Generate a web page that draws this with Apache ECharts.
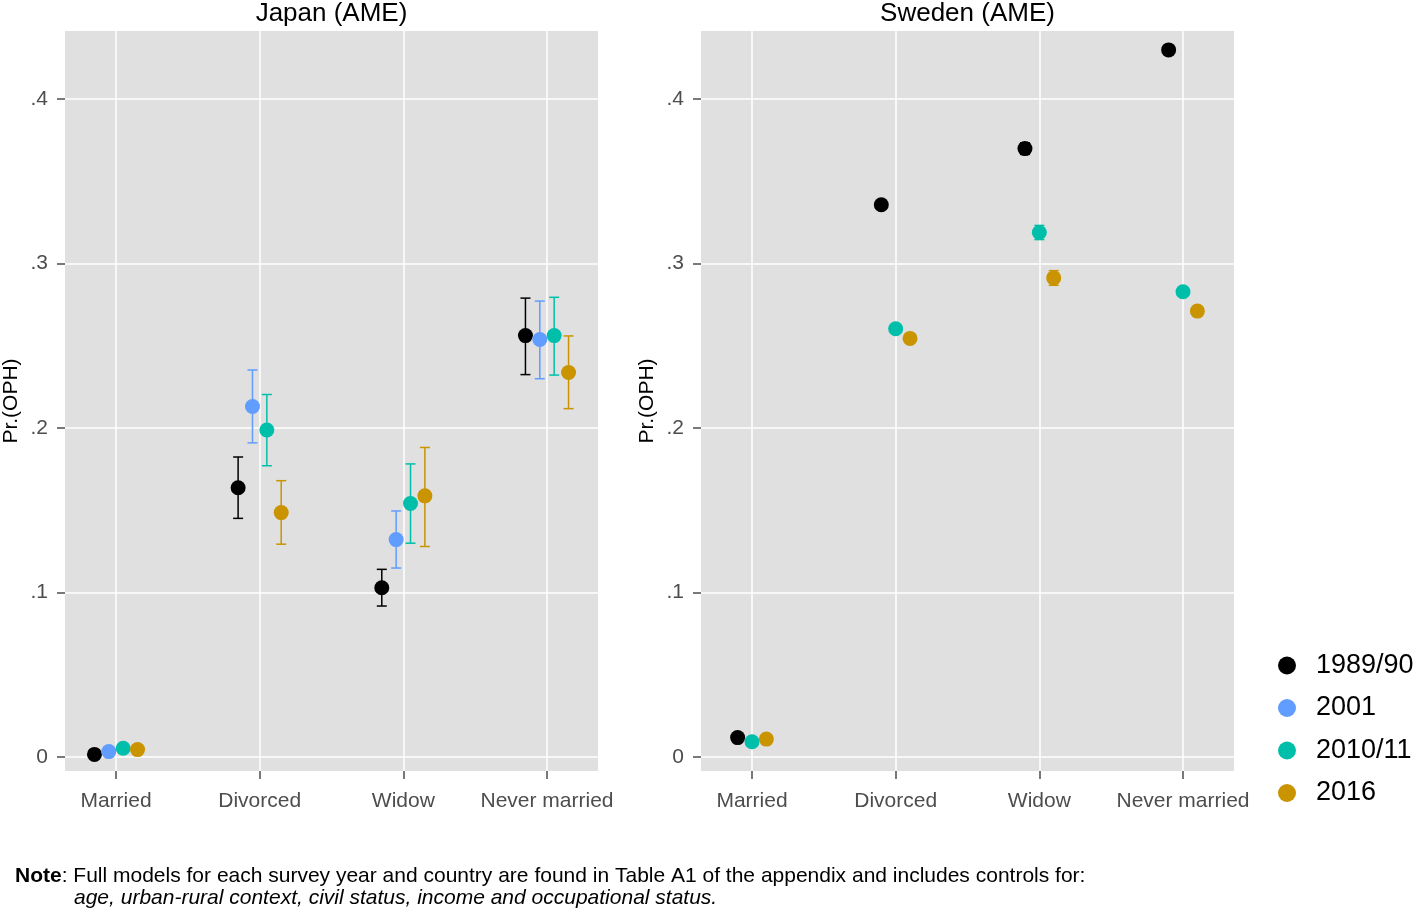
<!DOCTYPE html>
<html>
<head>
<meta charset="utf-8">
<script src="https://cdn.jsdelivr.net/npm/echarts@6/dist/echarts.min.js"></script>
<style>
  html, body { margin: 0; padding: 0; background: #fff; }
  #chart { width: 1416px; height: 912px; }
</style>
</head>
<body>
<div id="chart"></div>
<script>
const categories = ['Married', 'Divorced', 'Widow', 'Never married'];
const years = ['1989/90', '2001', '2010/11', '2016'];
const yearColors = ['#000000', '#619CFF', '#00BFAA', '#C99400'];
const yTicks = [0, 0.1, 0.2, 0.3, 0.4];

// Japan: estimate, lower and upper bound per category
const japan1989 = [0.0016, 0.1637, 0.1029, 0.2562];
const japan1989Lo = [0.0006, 0.1451, 0.0918, 0.2325];
const japan1989Hi = [0.0026, 0.1824, 0.1141, 0.2790];
const japan2001 = [0.0033, 0.2131, 0.1322, 0.2538];
const japan2001Lo = [0.0023, 0.1910, 0.1149, 0.2300];
const japan2001Hi = [0.0043, 0.2353, 0.1496, 0.2772];
const japan2010 = [0.0053, 0.1988, 0.1541, 0.2562];
const japan2010Lo = [0.0043, 0.1771, 0.1300, 0.2322];
const japan2010Hi = [0.0063, 0.2204, 0.1782, 0.2795];
const japan2016 = [0.0045, 0.1486, 0.1588, 0.2338];
const japan2016Lo = [0.0035, 0.1294, 0.1280, 0.2118];
const japan2016Hi = [0.0055, 0.1680, 0.1882, 0.2560];

// Sweden (no 2001 survey)
const sweden1989 = [0.0118, 0.3358, 0.3699, 0.4299];
const sweden1989Lo = [0.0108, 0.3338, 0.3664, 0.4279];
const sweden1989Hi = [0.0128, 0.3378, 0.3734, 0.4319];
const sweden2010 = [0.0093, 0.2604, 0.3189, 0.2829];
const sweden2010Lo = [0.0083, 0.2584, 0.3146, 0.2809];
const sweden2010Hi = [0.0103, 0.2624, 0.3232, 0.2849];
const sweden2016 = [0.0109, 0.2545, 0.2913, 0.2711];
const sweden2016Lo = [0.0099, 0.2525, 0.2868, 0.2691];
const sweden2016Hi = [0.0119, 0.2565, 0.2957, 0.2731];

const font = "'Liberation Sans', Arial, sans-serif";
const chart = echarts.init(document.getElementById('chart'));

const panels = [
  { title: 'Japan (AME)', left: 65, groups: [
    [0, japan1989, japan1989Lo, japan1989Hi],
    [1, japan2001, japan2001Lo, japan2001Hi],
    [2, japan2010, japan2010Lo, japan2010Hi],
    [3, japan2016, japan2016Lo, japan2016Hi]
  ]},
  { title: 'Sweden (AME)', left: 701, groups: [
    [0, sweden1989, sweden1989Lo, sweden1989Hi],
    [2, sweden2010, sweden2010Lo, sweden2010Hi],
    [3, sweden2016, sweden2016Lo, sweden2016Hi]
  ]}
];

const grids = [], xAxes = [], yAxes = [], points = [], bars = [], titles = [];

panels.forEach(function (p, k) {
  grids.push({
    left: p.left, top: 31, width: 533, height: 740,
    outerBoundsMode: 'none', containLabel: false,
    show: true, backgroundColor: '#E0E0E0', borderWidth: 0
  });
  xAxes.push({
    type: 'value', gridIndex: k, min: -0.355, max: 3.355,
    axisLine: { show: false, onZero: false },
    axisTick: { show: true, length: 8, customValues: [0, 1, 2, 3],
      lineStyle: { color: '#4d4d4d', width: 1.5 } },
    axisLabel: { customValues: [0, 1, 2, 3], margin: 20, fontSize: 21,
      color: '#4d4d4d', fontFamily: font,
      formatter: function (v) { return categories[Math.round(v)]; } },
    splitLine: { show: true, lineStyle: { color: '#ffffff', width: 1.5 } }
  });
  yAxes.push({
    type: 'value', gridIndex: k, min: -0.0085, max: 0.4414,
    name: 'Pr.(OPH)', nameLocation: 'middle', nameRotate: 90, nameGap: 43,
    nameTextStyle: { fontSize: 21, color: '#000', fontFamily: font },
    axisLine: { show: false, onZero: false },
    axisTick: { show: true, length: 8, customValues: yTicks,
      lineStyle: { color: '#4d4d4d', width: 1.5 } },
    axisLabel: { customValues: yTicks, margin: 17, fontSize: 21,
      color: '#4d4d4d', fontFamily: font,
      formatter: function (v) { return v === 0 ? '0' : String(v).replace(/^0/, ''); } },
    splitLine: { show: true, lineStyle: { color: '#ffffff', width: 1.5 } }
  });
  titles.push({
    type: 'text', x: p.left + 266.5, y: 1,
    style: { text: p.title, font: '26px ' + font, fill: '#000', textAlign: 'center' }
  });

  const n = p.groups.length;
  p.groups.forEach(function (g, j) {
    const yi = g[0], est = g[1], lo = g[2], hi = g[3];
    const color = yearColors[yi];
    const off = (j - (n - 1) / 2) * 0.1;
    points.push({
      name: years[yi], type: 'scatter', xAxisIndex: k, yAxisIndex: k,
      symbol: 'circle', symbolSize: 15, z: 4,
      itemStyle: { color: color, opacity: 1 },
      data: est.map(function (v, i) { return [i + off, v]; })
    });
    bars.push({
      name: years[yi] + ' CI', type: 'custom', xAxisIndex: k, yAxisIndex: k, z: 3,
      encode: { x: 0, y: [1, 2] },
      data: est.map(function (v, i) { return [i + off, lo[i], hi[i]]; }),
      renderItem: function (params, api) {
        const x = api.value(0);
        const top = api.coord([x, api.value(2)]);
        const bot = api.coord([x, api.value(1)]);
        const w = 5;
        const st = { stroke: color, lineWidth: 1.5 };
        return { type: 'group', children: [
          { type: 'line', shape: { x1: top[0], y1: top[1], x2: bot[0], y2: bot[1] }, style: st },
          { type: 'line', shape: { x1: top[0] - w, y1: top[1], x2: top[0] + w, y2: top[1] }, style: st },
          { type: 'line', shape: { x1: bot[0] - w, y1: bot[1], x2: bot[0] + w, y2: bot[1] }, style: st }
        ]};
      }
    });
  });
});

chart.setOption({
  animation: false,
  grid: grids,
  xAxis: xAxes,
  yAxis: yAxes,
  legend: {
    data: years, orient: 'vertical', left: 1273, top: 647,
    icon: 'circle', itemWidth: 18, itemHeight: 18, itemGap: 15.5,
    textStyle: { fontSize: 27, color: '#000', fontFamily: font, padding: [0, 0, 0, 15] }
  },
  graphic: titles.concat([
    {
      type: 'text', left: 15, top: 866,
      style: {
        text: '{b|Note}: Full models for each survey year and country are found in Table A1 of the appendix and includes controls for:',
        font: '21px ' + font, fill: '#000',
        rich: { b: { fontWeight: 'bold', fontSize: 21, fontFamily: font } }
      }
    },
    {
      type: 'text', left: 74, top: 888,
      style: {
        text: 'age, urban-rural context, civil status, income and occupational status.',
        font: 'italic 21px ' + font, fill: '#000'
      }
    }
  ]),
  series: points.concat(bars)
});
</script>
</body>
</html>
